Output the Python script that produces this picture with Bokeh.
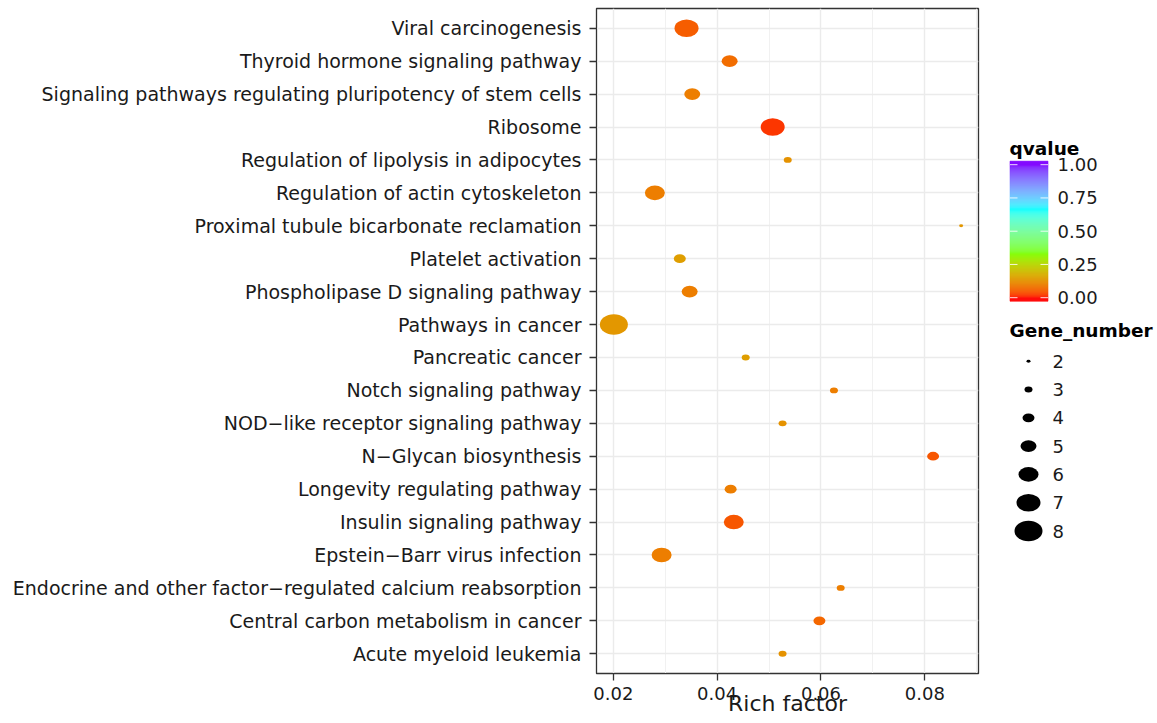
import numpy as np
from bokeh.plotting import figure
from bokeh.layouts import row
from bokeh.models import (ColumnDataSource, FactorRange, Range1d, FixedTicker,
                          PrintfTickFormatter)
from bokeh.transform import linear_cmap
from bokeh.core.properties import value
from bokeh.embed import file_html
from bokeh.resources import INLINE

# ---- enrichment results (bottom to top) ----
pathways = [
    "Acute myeloid leukemia",
    "Central carbon metabolism in cancer",
    "Endocrine and other factor−regulated calcium reabsorption",
    "Epstein−Barr virus infection",
    "Insulin signaling pathway",
    "Longevity regulating pathway",
    "N−Glycan biosynthesis",
    "NOD−like receptor signaling pathway",
    "Notch signaling pathway",
    "Pancreatic cancer",
    "Pathways in cancer",
    "Phospholipase D signaling pathway",
    "Platelet activation",
    "Proximal tubule bicarbonate reclamation",
    "Regulation of actin cytoskeleton",
    "Regulation of lipolysis in adipocytes",
    "Ribosome",
    "Signaling pathways regulating pluripotency of stem cells",
    "Thyroid hormone signaling pathway",
    "Viral carcinogenesis",
]
rich_factor = [0.0526, 0.0597, 0.0638, 0.0293, 0.0432, 0.0426, 0.0816, 0.0526,
               0.0625, 0.0455, 0.0201, 0.0347, 0.0328, 0.0870, 0.0280, 0.0536,
               0.0507, 0.0352, 0.0424, 0.0341]
gene_number = [3, 4, 3, 6, 6, 4, 4, 3, 3, 3, 8, 5, 4, 2, 6, 3, 7, 5, 5, 7]
qvalue = [0.13, 0.07, 0.10, 0.10, 0.05, 0.10, 0.05, 0.13, 0.10, 0.15,
          0.14, 0.10, 0.15, 0.14, 0.10, 0.13, 0.02, 0.10, 0.075, 0.055]

x_ticks = [0.02, 0.04, 0.06, 0.08]
x_minor = [0.03, 0.05, 0.07, 0.09]
q_ticks = [0.0, 0.25, 0.5, 0.75, 1.0]
q_labels = ["0.00", "0.25", "0.50", "0.75", "1.00"]
size_levels = [2, 3, 4, 5, 6, 7, 8]

FONT = "DejaVu Sans"
TXT = "#1a1a1a"
EDGE = "#333333"

# page geometry shared by both panels
FRAME_TOP, FRAME_BOTTOM = 8, 673
PAGE_H = 723


# ---- rainbow(4) gradient interpolated in CIELAB ----
def hex_to_rgb(h):
    return np.array([int(h[i:i + 2], 16) / 255 for i in (1, 3, 5)])


M = np.array([[0.4124, 0.3576, 0.1805],
              [0.2126, 0.7152, 0.0722],
              [0.0193, 0.1192, 0.9505]])
WHITE = np.array([0.95047, 1.0, 1.08883])


def rgb_to_lab(rgb):
    lin = np.where(rgb <= 0.04045, rgb / 12.92, ((rgb + 0.055) / 1.055) ** 2.4)
    xyz = M @ lin / WHITE
    f = np.where(xyz > 0.008856, np.cbrt(xyz), 7.787 * xyz + 16 / 116)
    return np.array([116 * f[1] - 16, 500 * (f[0] - f[1]), 200 * (f[1] - f[2])])


def lab_to_hex(lab):
    fy = (lab[0] + 16) / 116
    f = np.array([fy + lab[1] / 500, fy, fy - lab[2] / 200])
    xyz = np.where(f > 0.2069, f ** 3, (f - 16 / 116) / 7.787) * WHITE
    lin = np.clip(np.linalg.inv(M) @ xyz, 0, 1)
    rgb = np.where(lin <= 0.0031308, 12.92 * lin, 1.055 * lin ** (1 / 2.4) - 0.055)
    r, g, b = (np.clip(rgb, 0, 1) * 255).round().astype(int)
    return f"#{r:02x}{g:02x}{b:02x}"


stops = [rgb_to_lab(hex_to_rgb(c)) for c in ["#FF0000", "#80FF00", "#00FFFF", "#8000FF"]]


def ramp(t):
    t = min(max(t, 0.0), 1.0)
    seg = min(int(t * 3), 2)
    u = t * 3 - seg
    return lab_to_hex(stops[seg] * (1 - u) + stops[seg + 1] * u)


palette = [ramp(i / 255) for i in range(256)]


def dot_w(n):
    return 4.0 * (n - 1)


ASPECT = 0.73

# ---- main dot plot ----
src = ColumnDataSource(dict(
    path=pathways, rf=rich_factor, q=qvalue, n=gene_number,
    w=[dot_w(n) for n in gene_number],
    h=[dot_w(n) * ASPECT for n in gene_number],
))

lo, hi = min(rich_factor), max(rich_factor)
pad = 0.05 * (hi - lo)

p = figure(width=980, height=PAGE_H, title=None,
           x_range=Range1d(lo - pad, hi + pad),
           y_range=FactorRange(factors=pathways, range_padding=0.1,
                               range_padding_units="absolute"),
           output_backend="svg", toolbar_location=None,
           min_border_left=596, min_border_right=2,
           min_border_top=FRAME_TOP, min_border_bottom=PAGE_H - FRAME_BOTTOM)
p.background_fill_color = "white"
p.border_fill_color = "white"
p.outline_line_color = EDGE
p.outline_line_width = 1.3

p.ellipse(x="rf", y="path", width="w", height="h",
          width_units="screen", height_units="screen",
          fill_color=linear_cmap("q", palette, 0, 1), line_color=None, source=src)

p.xaxis.ticker = FixedTicker(ticks=x_ticks, minor_ticks=x_minor)
p.xaxis.formatter = PrintfTickFormatter(format="%.2f")
p.xaxis.axis_label = "Rich factor"
p.xaxis.axis_label_text_font = FONT
p.xaxis.axis_label_text_font_size = "22px"
p.xaxis.axis_label_text_font_style = "normal"
p.xaxis.axis_label_text_color = TXT
p.xaxis.axis_label_standoff = -12

for ax in (p.xaxis[0], p.yaxis[0]):
    ax.axis_line_color = EDGE
    ax.major_tick_line_color = EDGE
    ax.major_tick_line_width = 1.3
    ax.major_tick_in = 0
    ax.major_tick_out = 7
    ax.minor_tick_line_color = None
    ax.major_label_text_font = FONT
    ax.major_label_text_color = TXT

p.xaxis.major_label_text_font_size = "18px"
p.xaxis.major_label_standoff = 6
p.yaxis.major_label_text_font_size = "19px"
p.yaxis.major_label_standoff = 8

p.xgrid.grid_line_color = "#EBEBEB"
p.xgrid.grid_line_width = 1.4
p.xgrid.minor_grid_line_color = "#F1F1F1"
p.xgrid.minor_grid_line_width = 1.0
p.ygrid.grid_line_color = "#EBEBEB"
p.ygrid.grid_line_width = 1.4

# ---- legend panel (coordinates in page pixels) ----
lg = figure(width=177, height=PAGE_H, title=None, x_range=Range1d(980, 1157),
            y_range=Range1d(FRAME_BOTTOM, FRAME_TOP),
            output_backend="svg", toolbar_location=None,
            x_axis_location=None, y_axis_location=None,
            min_border_left=0, min_border_right=0,
            min_border_top=FRAME_TOP, min_border_bottom=PAGE_H - FRAME_BOTTOM)
lg.outline_line_color = None
lg.grid.visible = False

# colour bar
bar_l, bar_r, bar_t, bar_b = 1009.5, 1047.5, 160.7, 300.7
inset = 3.5
q_top, q_bot = bar_t + inset, bar_b - inset


def tick_y(q):
    return q_bot - q * (q_bot - q_top)


nbin = 140
edges = np.linspace(bar_b, bar_t, nbin + 1)
qc = [(q_bot - (edges[i] + edges[i + 1]) / 2) / (q_bot - q_top) for i in range(nbin)]
bar_cols = [ramp(q) for q in qc]
lg.quad(left=bar_l, right=bar_r, bottom=edges[:-1], top=edges[1:],
        fill_color=bar_cols, line_color=bar_cols, line_width=0.6)
ty = [tick_y(q) for q in q_ticks]
lg.segment(x0=[bar_l] * 5, x1=[bar_l + 7.5] * 5, y0=ty, y1=ty,
           line_color="white", line_alpha=0.85, line_width=1)
lg.segment(x0=[bar_r - 7.5] * 5, x1=[bar_r] * 5, y0=ty, y1=ty,
           line_color="white", line_alpha=0.85, line_width=1)
lg.text(x=[1057] * 5, y=ty, text=q_labels, text_font=value(FONT),
        text_font_size="18px", text_baseline="middle", text_align="left", text_color=TXT)

lg.text(x=[1009, 1009], y=[148, 330], text=["qvalue", "Gene_number"],
        text_font=value(FONT), text_font_size="18.5px", text_font_style="bold",
        text_baseline="alphabetic", text_align="left", text_color="black")

# size key
ky = [360.7 + i * 28.3 for i in range(len(size_levels))]
lg.ellipse(x=[1028] * len(size_levels), y=ky,
           width=[dot_w(n) for n in size_levels],
           height=[dot_w(n) * ASPECT for n in size_levels],
           width_units="screen", height_units="screen",
           fill_color="black", line_color=None)
lg.text(x=[1052] * len(size_levels), y=ky, text=[str(n) for n in size_levels],
        text_font=value(FONT), text_font_size="18px", text_baseline="middle",
        text_align="left", text_color=TXT)

layout = row(p, lg)
open("out.html", "w").write(file_html(layout, INLINE))
